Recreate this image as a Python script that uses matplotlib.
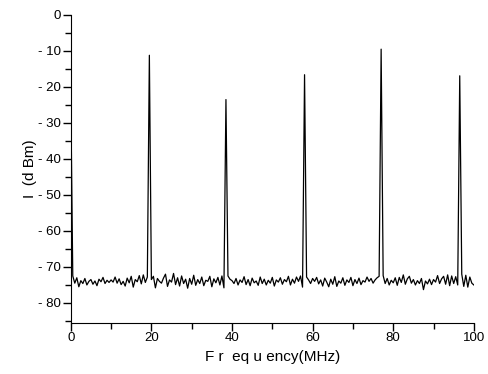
import numpy as np
import matplotlib
matplotlib.use("Agg")
import matplotlib.pyplot as plt
from matplotlib.ticker import MultipleLocator, FuncFormatter

plt.rcParams['font.family'] = ['Liberation Sans', 'DejaVu Sans']

# spectrum, one value every 0.5 MHz from 0 to 100 MHz
freq_step = 0.5
level_dbm = [
    # 0 - 9.5
    -22.0, -72.5, -74.5, -73.0, -75.5, -73.8, -74.6, -73.2, -75.0, -74.0,
    -73.5, -74.8, -73.9, -75.2, -73.4, -74.1, -72.9, -74.6, -73.7, -74.3,
    # 10 - 19.5
    -73.6, -74.2, -72.8, -74.5, -73.3, -74.9, -74.0, -75.3, -73.1, -74.4,
    -72.6, -75.6, -73.5, -74.1, -72.4, -74.7, -72.2, -74.3, -72.8, -11.2,
    # 20 - 29.5
    -73.5, -72.6, -75.8, -73.2, -74.0, -74.5, -73.1, -72.0, -75.4, -73.6,
    -74.2, -71.8, -74.9, -73.0, -75.3, -72.5, -74.6, -73.4, -75.9, -73.2,
    # 30 - 39.5
    -74.8, -72.3, -75.1, -73.5, -74.6, -72.8, -75.2, -73.7, -74.0, -72.6,
    -75.5, -73.3, -74.4, -72.9, -75.0, -72.5, -75.8, -23.5, -72.5, -73.4,
    # 40 - 49.5
    -73.8, -74.6, -73.2, -75.0, -73.6, -74.3, -72.7, -74.9, -73.5, -75.2,
    -73.1, -74.4, -73.9, -75.1, -72.8, -74.6, -73.4, -75.0, -73.7, -74.5,
    # 50 - 59.5
    -72.9, -75.3, -73.6, -74.2, -73.0, -74.8, -73.5, -74.1, -72.6, -75.0,
    -73.4, -74.5, -72.8, -74.0, -72.5, -75.6, -16.6, -72.8, -73.6, -74.6,
    # 60 - 69.5
    -73.2, -74.0, -72.9, -74.7, -73.6, -75.3, -73.1, -74.2, -75.5, -73.4,
    -74.8, -72.7, -75.4, -73.9, -74.5, -73.0, -75.1, -73.6, -74.3, -72.9,
    # 70 - 79.5
    -75.2, -73.5, -74.6, -73.1, -74.9, -73.8, -74.2, -72.8, -74.0, -73.2,
    -74.5, -73.6, -73.0, -72.6, -9.5, -72.4, -74.6, -73.2, -75.0, -73.7,
    # 80 - 89.5
    -74.4, -73.0, -75.1, -72.9, -74.3, -72.2, -74.8, -73.3, -72.6, -74.5,
    -73.5, -75.0, -73.8, -74.6, -73.2, -76.3, -73.9, -74.7, -73.4, -74.9,
    # 90 - 100
    -73.5, -74.2, -72.4, -74.6, -73.3, -72.6, -74.8, -72.2, -75.2, -72.5,
    -74.6, -72.7, -75.0, -16.9, -72.0, -75.4, -72.3, -75.6, -72.8, -74.5,
    -75.0,
]
freq_mhz = np.arange(len(level_dbm)) * freq_step

fig = plt.figure(figsize=(4.88, 3.74), dpi=100)
ax = fig.add_axes([0.145, 0.137, 0.826, 0.823])

ax.plot(freq_mhz, level_dbm, color='black', lw=0.9)

ax.set_xlim(0, 100)
ax.set_ylim(-85.5, 0)

ax.spines['top'].set_visible(False)
ax.spines['right'].set_visible(False)

ax.xaxis.set_major_locator(MultipleLocator(20))
ax.xaxis.set_minor_locator(MultipleLocator(10))
ax.yaxis.set_major_locator(MultipleLocator(10))
ax.yaxis.set_minor_locator(MultipleLocator(5))

def ylab(v, pos):
    v = int(round(v))
    return '0' if v == 0 else '- %d' % abs(v)

ax.yaxis.set_major_formatter(FuncFormatter(ylab))
ax.tick_params(which='major', direction='out', length=6, width=1, labelsize=9.5, pad=1)
ax.tick_params(which='minor', direction='out', length=4, width=1)

ax.set_xlabel('F r  eq u ency(MHz)', fontsize=11, labelpad=4)
ax.set_ylabel('I  (d Bm)', fontsize=11)
ax.yaxis.set_label_coords(-0.083, 0.5)

fig.savefig('out.png', dpi=100)
